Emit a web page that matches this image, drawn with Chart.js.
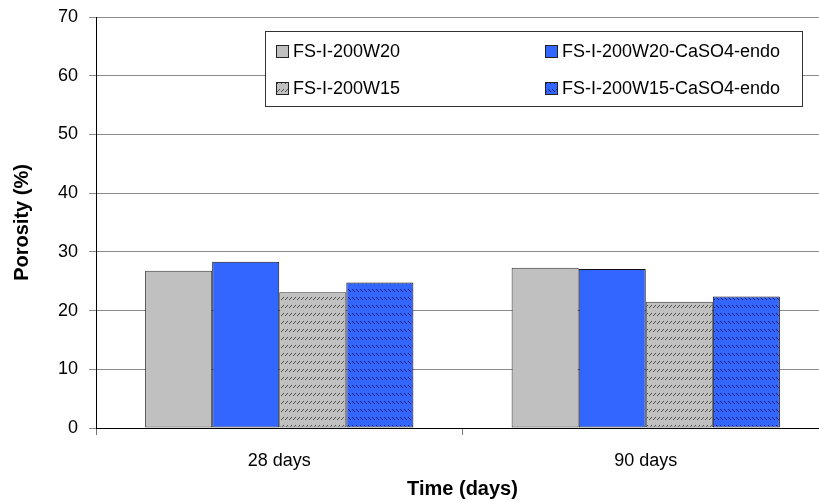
<!DOCTYPE html>
<html lang="en">
<head>
    <meta charset="UTF-8">
    <title>Porosity vs Time</title>
    <style>
        html, body { margin: 0; padding: 0; background: #fff; overflow: hidden; }
        #wrap { width: 830px; height: 501px; }
    </style>
</head>
<body>
    <div id="wrap">
        <canvas id="myChart" width="830" height="501"></canvas>
    </div>

    <script src="https://cdnjs.cloudflare.com/ajax/libs/Chart.js/4.4.1/chart.umd.min.js"></script>

    <script>
        // Data
        const categories = ['28 days', '90 days'];
        const seriesNames = ['FS-I-200W20', 'FS-I-200W20-CaSO4-endo', 'FS-I-200W15', 'FS-I-200W15-CaSO4-endo'];
        const w20 = [26.8, 27.3];
        const w20Caso4 = [28.3, 27.1];
        const w15 = [23.1, 21.5];
        const w15Caso4 = [24.8, 22.4];
        const yTicks = [0, 10, 20, 30, 40, 50, 60, 70];

        const FONT = '"Liberation Sans", Arial, sans-serif';
        const GREY = '#c0c0c0';
        const BLUE = '#3366ff';

        // small dashed hatch tiles
        function hatch(bg, fg, dir) {
            const c = document.createElement('canvas');
            c.width = 4; c.height = 8;
            const x = c.getContext('2d');
            x.fillStyle = bg;
            x.fillRect(0, 0, 4, 8);
            x.fillStyle = fg;
            for (let i = 0; i < 3; i++) {
                const px = dir > 0 ? i + 1 : i;
                const py = dir > 0 ? 3 - i : i + 1;
                x.fillRect(px, py, 1, 1);
            }
            return x.createPattern(c, 'repeat');
        }

        const greyHatch = hatch(GREY, '#505050', 1);
        const blueHatch = hatch(BLUE, '#14236b', -1);

        // legend drawn inside the plot, two columns
        const boxLegend = {
            id: 'boxLegend',
            afterDraw(chart) {
                const ctx = chart.ctx;
                ctx.save();
                ctx.fillStyle = '#fff';
                ctx.fillRect(265, 31, 537, 75);
                ctx.strokeStyle = '#333';
                ctx.lineWidth = 1;
                ctx.strokeRect(265.5, 31.5, 537, 75);
                const spots = [[276, 51], [545, 51], [276, 88], [545, 88]];
                ctx.font = '18px ' + FONT;
                ctx.textBaseline = 'middle';
                chart.data.datasets.forEach((ds, i) => {
                    const [sx, sy] = spots[i];
                    ctx.fillStyle = ds.backgroundColor;
                    ctx.fillRect(sx, sy - 6, 12, 12);
                    ctx.strokeStyle = '#222';
                    ctx.strokeRect(sx + 0.5, sy - 5.5, 12, 12);
                    ctx.fillStyle = '#000';
                    ctx.fillText(ds.label, sx + 17, sy + 1);
                });
                ctx.restore();
            }
        };

        const ctx = document.getElementById('myChart').getContext('2d');
        new Chart(ctx, {
            type: 'bar',
            data: {
                labels: categories,
                datasets: [
                    { label: seriesNames[0], data: w20, backgroundColor: GREY, borderColor: '#333' },
                    { label: seriesNames[1], data: w20Caso4, backgroundColor: BLUE, borderColor: '#111' },
                    { label: seriesNames[2], data: w15, backgroundColor: greyHatch, borderColor: '#333' },
                    { label: seriesNames[3], data: w15Caso4, backgroundColor: blueHatch, borderColor: '#111' }
                ]
            },
            options: {
                responsive: false,
                animation: false,
                layout: { padding: { top: 17, right: 1, bottom: 0, left: 0 } },
                datasets: {
                    bar: { categoryPercentage: 0.732, barPercentage: 1.0, borderWidth: 1, borderSkipped: false }
                },
                plugins: {
                    legend: { display: false },
                    tooltip: { enabled: false }
                },
                scales: {
                    x: {
                        afterFit: s => { s.height = 73; s.paddingLeft = 0; s.paddingRight = 0; },
                        grid: { offset: true, drawOnChartArea: false, tickLength: 7, color: '#777' },
                        border: { color: '#000', width: 1 },
                        ticks: { color: '#000', padding: 15, font: { family: FONT, size: 18 } },
                        title: {
                            display: true, text: 'Time (days)', color: '#000',
                            padding: { top: 0, bottom: 0 },
                            font: { family: FONT, size: 20, weight: 'bold' }
                        }
                    },
                    y: {
                        min: 0, max: 70,
                        afterFit: s => { s.width = 96; s.paddingTop = 0; s.paddingBottom = 0; },
                        afterBuildTicks: s => { s.ticks = yTicks.map(v => ({ value: v })); },
                        grid: { color: '#8c8c8c', tickLength: 7 },
                        border: { color: '#000', width: 1 },
                        ticks: { color: '#000', padding: 11, font: { family: FONT, size: 18 } },
                        title: {
                            display: true, text: 'Porosity (%)', color: '#000',
                            padding: { top: 10, bottom: 0 },
                            font: { family: FONT, size: 20, weight: 'bold' }
                        }
                    }
                }
            },
            plugins: [boxLegend]
        });
    </script>
</body>
</html>
